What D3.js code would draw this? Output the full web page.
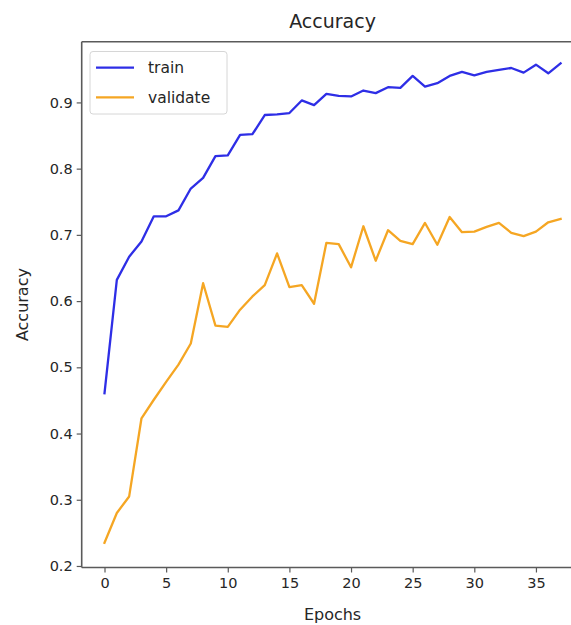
<!DOCTYPE html>
<html>
<head>
<meta charset="utf-8">
<script src="https://cdn.jsdelivr.net/npm/d3@7"></script>
<style>
  html, body { margin: 0; padding: 0; background: #fff; }
  svg { display: block; font-family: "DejaVu Sans", sans-serif; }
</style>
</head>
<body>
<svg id="chart" width="571" height="625"></svg>
<script>
// ---- data ----
const epochs = d3.range(0, 38);
const trainAcc = [0.461, 0.632, 0.667, 0.690, 0.728, 0.728, 0.737, 0.770, 0.786, 0.819,
  0.820, 0.851, 0.852, 0.881, 0.882, 0.884, 0.903, 0.896, 0.913, 0.910,
  0.909, 0.918, 0.914, 0.923, 0.922, 0.940, 0.924, 0.929, 0.940, 0.946,
  0.941, 0.946, 0.949, 0.952, 0.945, 0.957, 0.944, 0.959];
const valAcc = [0.235, 0.280, 0.305, 0.423, 0.451, 0.478, 0.504, 0.536, 0.627, 0.563,
  0.561, 0.587, 0.607, 0.624, 0.672, 0.621, 0.624, 0.596, 0.688, 0.686,
  0.651, 0.713, 0.661, 0.707, 0.691, 0.686, 0.718, 0.685, 0.727, 0.704,
  0.705, 0.712, 0.718, 0.703, 0.698, 0.705, 0.719, 0.724];
const seriesNames = ["train", "validate"];
const seriesColors = ["#2e2ee6", "#f5a623"];
const xTicks = [0, 5, 10, 15, 20, 25, 30, 35];
const yTicks = [0.2, 0.3, 0.4, 0.5, 0.6, 0.7, 0.8, 0.9];
const titleText = "Accuracy";
const xLabel = "Epochs";
const yLabel = "Accuracy";

// ---- layout ----
const svg = d3.select("#chart");
const L = 81.7, R = 583.4, T = 41.7, B = 567.5;

const x = d3.scaleLinear().domain([-1.85, 38.85]).range([L, R]);
const y = d3.scaleLinear().domain([0.1977, 0.9917]).range([B, T]);

const textColor = "#262626";
const spineColor = "#5a5a5a";

// axes
const xAxis = svg.append("g").attr("transform", `translate(0,${B})`)
  .call(d3.axisBottom(x).tickValues(xTicks).tickSize(5).tickPadding(5).tickFormat(d3.format("d")));
const yAxis = svg.append("g").attr("transform", `translate(${L},0)`)
  .call(d3.axisLeft(y).tickValues(yTicks).tickSize(5).tickPadding(4).tickFormat(d3.format(".1f")));
[xAxis, yAxis].forEach(g => {
  g.select(".domain").remove();
  g.selectAll(".tick line").attr("stroke", spineColor).attr("stroke-width", 1.2);
  g.selectAll(".tick text").attr("fill", textColor).style("font-size", "14.5px")
    .style("font-family", "DejaVu Sans, sans-serif");
});

// spines
const spines = svg.append("g").attr("stroke", spineColor).attr("stroke-width", 1.6).attr("fill", "none");
spines.append("line").attr("x1", L).attr("x2", L).attr("y1", T).attr("y2", B);
spines.append("line").attr("x1", L).attr("x2", R).attr("y1", B).attr("y2", B);
spines.append("line").attr("x1", L).attr("x2", R).attr("y1", T).attr("y2", T);
spines.append("line").attr("x1", R).attr("x2", R).attr("y1", T).attr("y2", B);

// lines
const line = d3.line().x((d, i) => x(epochs[i])).y(d => y(d));
[trainAcc, valAcc].forEach((arr, k) => {
  svg.append("path").datum(arr)
    .attr("fill", "none")
    .attr("stroke", seriesColors[k])
    .attr("stroke-width", 2.3)
    .attr("stroke-linejoin", "round")
    .attr("stroke-linecap", "square")
    .attr("d", line);
});

// title & labels
svg.append("text").attr("x", (L + R) / 2).attr("y", 28)
  .attr("text-anchor", "middle").attr("fill", textColor)
  .style("font-size", "19px").text(titleText);
svg.append("text").attr("x", (L + R) / 2).attr("y", 620)
  .attr("text-anchor", "middle").attr("fill", textColor)
  .style("font-size", "16px").text(xLabel);
svg.append("text").attr("transform", `translate(28,${(T + B) / 2}) rotate(-90)`)
  .attr("text-anchor", "middle").attr("fill", textColor)
  .style("font-size", "16px").text(yLabel);

// legend
const lg = svg.append("g");
lg.append("rect").attr("x", 90).attr("y", 51.5).attr("width", 137).attr("height", 62.5)
  .attr("rx", 3).attr("fill", "#fff").attr("fill-opacity", 0.8)
  .attr("stroke", "#d6d6d6").attr("stroke-width", 1);
seriesNames.forEach((name, i) => {
  const yy = 67.7 + i * 29.6;
  lg.append("line").attr("x1", 96).attr("x2", 134).attr("y1", yy).attr("y2", yy)
    .attr("stroke", seriesColors[i]).attr("stroke-width", 2.3);
  lg.append("text").attr("x", 148).attr("y", yy).attr("dy", "0.35em")
    .attr("fill", textColor).style("font-size", "15.5px").text(name);
});
</script>
</body>
</html>
